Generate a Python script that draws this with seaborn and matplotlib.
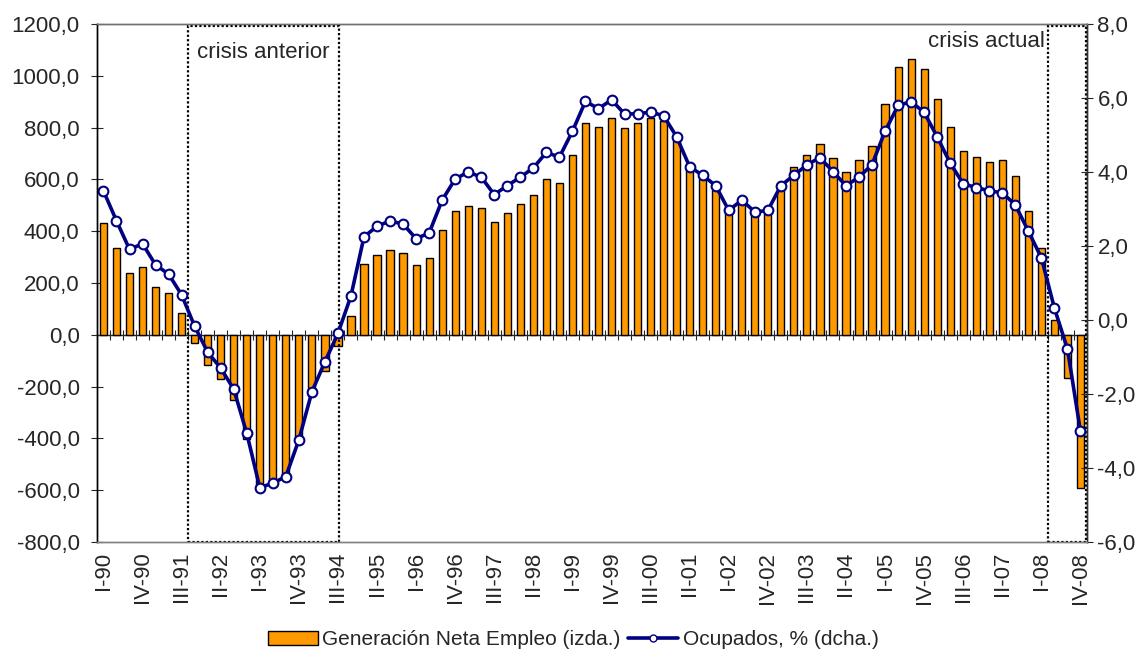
import numpy as np
import matplotlib
matplotlib.use("Agg")
import matplotlib.pyplot as plt
from matplotlib.patches import Rectangle, Patch
from matplotlib.lines import Line2D
from matplotlib.ticker import FuncFormatter
import seaborn as sns

# quarters I-90 .. IV-08
roman = ["I", "II", "III", "IV"]
quarters = [f"{q}-{y:02d}" for y in list(range(90, 100)) + list(range(0, 9)) for q in roman]

# Generación neta de empleo (miles), left axis
empleo = [430, 335, 240, 261, 186, 160, 84, -30,
          -118, -171, -251, -403, -586, -575, -547, -405,
          -238, -138, -45, 71, 274, 309, 329, 315,
          268, 296, 403, 479, 498, 490, 437, 472,
          505, 538, 600, 587, 695, 816, 803, 837,
          797, 816, 837, 824, 753, 637, 602, 560,
          470, 506, 463, 470, 560, 649, 695, 735,
          681, 627, 673, 730, 891, 1032, 1066, 1026,
          911, 803, 708, 687, 668, 674, 613, 479,
          335, 57, -165, -590]

# Ocupados, % interanual, right axis
ocupados = [3.49, 2.68, 1.91, 2.06, 1.49, 1.24, 0.68, -0.17,
            -0.87, -1.30, -1.87, -3.06, -4.53, -4.41, -4.23, -3.24,
            -1.94, -1.13, -0.36, 0.65, 2.25, 2.53, 2.68, 2.59,
            2.20, 2.35, 3.24, 3.81, 4.00, 3.86, 3.39, 3.63,
            3.86, 4.11, 4.53, 4.40, 5.10, 5.91, 5.71, 5.95,
            5.57, 5.57, 5.62, 5.52, 4.95, 4.14, 3.91, 3.63,
            2.96, 3.24, 2.92, 2.96, 3.63, 3.91, 4.19, 4.39,
            4.01, 3.63, 3.86, 4.20, 5.10, 5.80, 5.90, 5.61,
            4.95, 4.24, 3.68, 3.58, 3.49, 3.44, 3.11, 2.40,
            1.68, 0.32, -0.78, -3.01]

left_ticks = list(range(-800, 1201, 200))
right_ticks = list(range(-6, 9, 2))

BAR_COLOR = "#FF9900"
LINE_COLOR = "#000080"

sns.set_style("white")
plt.rcParams["font.family"] = ["Liberation Sans", "DejaVu Sans"]
FS = 16

fig = plt.figure(figsize=(11.46, 6.55), dpi=100)
ax = fig.add_axes([0.0846, 0.1725, 0.9485 - 0.0846, 0.9634 - 0.1725])

sns.barplot(x=quarters, y=empleo, color=BAR_COLOR, saturation=1, width=0.55,
            edgecolor="black", linewidth=1, errorbar=None, ax=ax)

ax2 = ax.twinx()
sns.lineplot(x=np.arange(len(quarters)), y=ocupados, ax=ax2, color=LINE_COLOR,
             lw=2.6, marker="o", markersize=7, markerfacecolor="white",
             markeredgecolor=LINE_COLOR, markeredgewidth=1.5)

n = len(quarters)
ax.set_xlim(-0.5, n - 0.5)
ax.set_ylim(left_ticks[0], left_ticks[-1])
ax2.set_ylim(right_ticks[0], right_ticks[-1])

fmt = FuncFormatter(lambda v, p: f"{v:.1f}".replace(".", ","))
ax.set_yticks(left_ticks)
ax.yaxis.set_major_formatter(fmt)
ax2.set_yticks(right_ticks)
ax2.yaxis.set_major_formatter(fmt)
ax.tick_params(axis="y", direction="inout", length=9, width=0.8, labelsize=FS, pad=8)
ax2.tick_params(axis="y", direction="inout", length=9, width=0.8, labelsize=FS, pad=3)

ax.set_xticks(range(0, n, 3))
ax.set_xticklabels(quarters[::3], rotation=90, fontsize=FS)
ax.tick_params(axis="x", length=0, pad=7)
ax.set_xlabel("")

# zero line with category tick marks
zero_pos = (0 - left_ticks[0]) / (left_ticks[-1] - left_ticks[0])
sec = ax.secondary_xaxis(zero_pos)
sec.set_xticks(np.arange(-0.5, n, 1))
sec.tick_params(direction="inout", length=7, width=0.8, labelbottom=False, labeltop=False)
sec.spines["bottom"].set_linewidth(1)
sec.spines["top"].set_linewidth(1)

for a in (ax, ax2):
    a.spines["top"].set_color("#707070")
    a.spines["bottom"].set_color("#808080")
    a.spines["left"].set_color("black")
    a.spines["right"].set_color("#303030")
    for s in a.spines.values():
        s.set_linewidth(1)

# crisis boxes
trans = ax.get_xaxis_transform()
ax.add_patch(Rectangle((6.5, 0), 11.6, 0.996, transform=trans, fill=False,
                       edgecolor="black", linestyle=(0, (1, 1)), lw=1.6, zorder=5))
ax.add_patch(Rectangle((72.5, 0), 2.95, 0.996, transform=trans, fill=False,
                       edgecolor="black", linestyle=(0, (1, 1)), lw=1.6, zorder=5))
ax.text(12.3, 0.945, "crisis anterior", transform=trans, ha="center", va="center", fontsize=FS)
ax.text(72.3, 0.966, "crisis actual", transform=trans, ha="right", va="center", fontsize=FS)

handles = [Patch(facecolor=BAR_COLOR, edgecolor="black", lw=1),
           Line2D([], [], color=LINE_COLOR, lw=2.6, marker="o", markersize=5,
                  markerfacecolor="white", markeredgecolor=LINE_COLOR)]
fig.legend(handles, ["Generación Neta Empleo (izda.)", "Ocupados, % (dcha.)"],
           loc="center", bbox_to_anchor=(0.5, 0.023), ncol=2, frameon=False,
           handlelength=2.4, handletextpad=0.2, columnspacing=0.4,
           prop={"family": ["Liberation Sans"], "size": 15})

fig.savefig("out.png", dpi=100)
